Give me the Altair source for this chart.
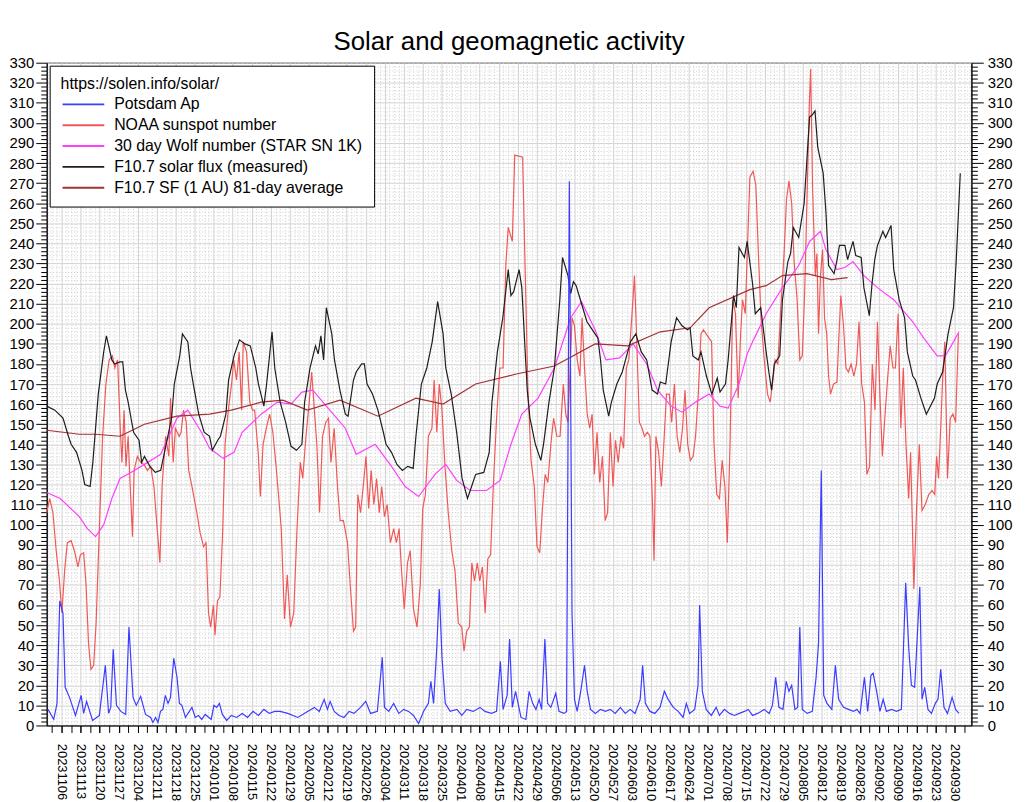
import altair as alt
import pandas as pd

# ---------------- data (day offsets from 2023-10-31 12:00 UTC, value) ----------------
BASE = pd.Timestamp("2023-10-31 12:00", tz="UTC")
DOMAIN_DAYS = 340.6

SERIES = ["Potsdam Ap", "NOAA sunspot number", "30 day Wolf number (STAR SN 1K)",
          "F10.7 solar flux (measured)", "F10.7 SF (1 AU) 81-day average"]
COLORS = ["#3c3cff", "#f05858", "#ff40ff", "#1e1e1e", "#a33232"]

AP = [(0.5, 8), (2.6, 3), (3.8, 11), (4.8, 62), (6.0, 56), (6.8, 19), (8.4, 14), (10.6, 5), (12.7, 15),
      (13.6, 6), (14.7, 12), (16.9, 2.5), (19.4, 5), (21.6, 30), (22.8, 6), (23.6, 9), (24.5, 38),
      (25.7, 10), (27.3, 7), (29.1, 5.5), (30.3, 49), (31.8, 14), (33.0, 10), (34.6, 14.5), (36.4, 5.5),
      (38.3, 4), (39.1, 1.5), (40.1, 4), (41.0, 1.5), (41.9, 7), (42.8, 8), (43.7, 15), (44.7, 11),
      (45.6, 14), (46.8, 33.5), (48.0, 24), (48.9, 11), (49.8, 10), (51.1, 4), (53.5, 9), (54.7, 4),
      (55.9, 5), (57.1, 3), (58.4, 5.5), (60.6, 3), (61.6, 10), (62.6, 9), (63.6, 11), (64.7, 5.5),
      (66.3, 2.5), (68, 5), (70, 4), (72, 6), (74, 4), (76, 7), (78, 5), (80, 8), (82, 6), (84, 7),
      (86, 7), (88.8, 6), (92.5, 4), (96.1, 7), (98.6, 9), (100.4, 7), (102.2, 13), (103.4, 8),
      (104.4, 12), (105.9, 7), (107.7, 5), (109.5, 4), (111.4, 7), (113.2, 6), (115.6, 9), (117.5, 12),
      (119.3, 6), (121.8, 7), (123.6, 34), (124.4, 9), (126.0, 7), (127.8, 11), (129.7, 6), (131.5, 8),
      (133.3, 7), (135.1, 5), (137.0, 1), (138.8, 7), (140.6, 11), (141.5, 22), (142.5, 11), (143.7, 39),
      (144.6, 68), (145.6, 34), (146.8, 11), (148.6, 7), (151.1, 8), (152.9, 5), (154.7, 8), (157.1, 7),
      (159.6, 9), (161.4, 7), (163.8, 6), (165.7, 7), (167.1, 32), (168.1, 8), (169.6, 15), (170.5, 43),
      (171.5, 9), (172.7, 17), (174.7, 4), (176.5, 3), (177.7, 17), (179.0, 11), (180.2, 8), (181.4, 13),
      (182.3, 8), (183.5, 43), (184.5, 11), (185.7, 9), (187.5, 16), (188.7, 7), (190.5, 6), (191.5, 7),
      (192.5, 271), (193.5, 56), (194.4, 13), (195.4, 7), (196.7, 17), (198.1, 30), (199.1, 17),
      (200.3, 8), (202.1, 6), (204.0, 8), (205.8, 7), (207.6, 8), (209.4, 6), (211.3, 9), (213.1, 6),
      (214.9, 8), (216.7, 6), (218.6, 13), (219.5, 30), (220.5, 11), (222.2, 7), (224.0, 6), (225.9, 9),
      (227.5, 17), (228.9, 13), (230.8, 9), (232.6, 7), (234.4, 4), (235.6, 11), (236.8, 6), (238.7, 8),
      (239.9, 20), (240.5, 60), (241.5, 17), (242.9, 8), (244.8, 5), (246.6, 9), (247.8, 5), (249.6, 8),
      (251.5, 6), (253.3, 5), (255.1, 6), (257.0, 7), (258.4, 8), (260.0, 5), (261.8, 6), (263.1, 7),
      (264.3, 8), (266.1, 6), (267.3, 10), (268.5, 24), (269.7, 9), (271.2, 8), (272.4, 22), (273.4, 17),
      (274.4, 20), (275.6, 8), (276.6, 9), (277.4, 49), (278.3, 8), (280.1, 6), (282.0, 7), (283.4, 24),
      (284.3, 41), (285.3, 127), (286.2, 15), (287.4, 11), (289.2, 8), (290.5, 30), (291.7, 13),
      (293.5, 9), (295.3, 8), (297.2, 7), (298.4, 8), (299.6, 6), (301.2, 24), (302.4, 7), (303.6, 25),
      (304.4, 26), (305.7, 17), (306.9, 7), (308.1, 13), (309.3, 7), (311.2, 8), (313.0, 7), (314.8, 8),
      (316.4, 71), (317.5, 39), (318.5, 20), (319.7, 19), (321.6, 69), (322.4, 13), (323.4, 19),
      (324.6, 8), (325.9, 6), (327.3, 11), (328.3, 13), (329.3, 28), (330.5, 9), (331.8, 6), (333.5, 14),
      (334.8, 8), (336.0, 6)]

NOAA = [(0.0, 106), (1.1, 113), (2.3, 106), (3.5, 87), (4.7, 72), (5.6, 56), (6.6, 77), (7.6, 91),
        (9.0, 92), (10.2, 87), (11.5, 79), (12.4, 85), (13.6, 86), (14.5, 70), (15.4, 41), (16.3, 28),
        (17.3, 30), (18.2, 51), (19.4, 98), (20.6, 144), (21.8, 170), (23.0, 182), (24.2, 184),
        (25.1, 178), (26.1, 182), (27.1, 148), (27.7, 131), (28.5, 157), (29.2, 129), (30.0, 144),
        (30.7, 121), (31.6, 94), (32.2, 127), (33.4, 134), (34.6, 131), (35.8, 130), (37.1, 127),
        (38.3, 129), (39.5, 119), (40.7, 98), (41.7, 81), (42.5, 119), (43.8, 144), (45.0, 134),
        (45.6, 163), (46.6, 131), (47.4, 148), (48.8, 144), (49.5, 146), (50.4, 157), (51.4, 151),
        (52.3, 127), (53.5, 119), (55.3, 106), (56.5, 96), (57.8, 89), (58.7, 91), (59.6, 56),
        (60.4, 49), (61.4, 60), (62.0, 45), (62.9, 62), (63.8, 64), (64.8, 96), (65.7, 140), (66.9, 157),
        (68.1, 170), (68.9, 182), (69.9, 172), (70.9, 186), (71.8, 157), (72.4, 191), (73.6, 186),
        (74.8, 161), (75.8, 157), (76.6, 157), (77.9, 136), (78.7, 114), (79.7, 140), (80.9, 148),
        (82.1, 155), (83.3, 146), (84.5, 129), (85.8, 108), (86.4, 98), (87.6, 53), (88.6, 75),
        (89.8, 49), (91.0, 56), (92.2, 98), (93.4, 131), (94.3, 123), (95.5, 144), (96.7, 161),
        (97.6, 176), (98.6, 157), (99.5, 140), (100.5, 106), (101.6, 144), (102.8, 151), (103.8, 153),
        (104.7, 131), (105.9, 148), (107.1, 119), (108.1, 102), (109.3, 102), (110.8, 91), (112.0, 66),
        (113.0, 47), (113.8, 49), (114.6, 115), (115.6, 106), (116.6, 119), (117.6, 134), (118.6, 108),
        (119.5, 127), (120.5, 110), (121.5, 123), (122.5, 106), (123.4, 119), (124.4, 104), (125.4, 110),
        (126.6, 91), (127.8, 98), (128.8, 91), (129.8, 98), (130.7, 77), (131.7, 58), (132.9, 81),
        (133.9, 87), (135.1, 58), (136.4, 49), (137.6, 70), (138.5, 108), (139.5, 115), (140.6, 144),
        (141.9, 148), (142.7, 172), (143.7, 146), (144.6, 170), (145.6, 157), (146.7, 129), (147.9, 106),
        (149.2, 87), (150.4, 77), (151.6, 51), (152.9, 49), (153.7, 37), (154.7, 47), (155.7, 49),
        (156.6, 81), (157.6, 72), (158.6, 81), (159.5, 72), (160.5, 79), (161.5, 56), (162.5, 83),
        (163.5, 85), (164.5, 119), (165.7, 153), (166.9, 178), (168.1, 178), (169.1, 229), (170.0, 248),
        (171.5, 241), (172.4, 284), (175.3, 283), (176.2, 229), (177.2, 170), (178.4, 132), (179.6, 119),
        (180.6, 89), (181.6, 86), (182.6, 108), (183.6, 125), (184.6, 121), (185.7, 140), (186.7, 153),
        (187.9, 144), (189.1, 144), (190.3, 170), (191.2, 155), (192.0, 151), (192.7, 174), (193.5, 203),
        (194.4, 199), (195.4, 182), (196.4, 174), (197.2, 203), (198.1, 178), (199.1, 155), (200.0, 148),
        (200.9, 155), (201.7, 125), (202.7, 146), (203.7, 121), (204.7, 134), (205.7, 102), (206.6, 106),
        (207.6, 146), (208.6, 119), (209.5, 142), (210.5, 131), (211.5, 144), (212.5, 138), (213.5, 178),
        (214.4, 182), (215.5, 203), (216.5, 224), (217.3, 193), (218.3, 151), (219.3, 148), (220.2, 144),
        (221.2, 146), (222.2, 144), (223.2, 108), (223.7, 82), (224.4, 144), (225.4, 136), (226.4, 119),
        (227.3, 140), (228.3, 165), (229.3, 165), (230.2, 151), (231.2, 170), (232.2, 144), (233.2, 136),
        (234.2, 148), (235.1, 167), (236.1, 140), (237.1, 132), (238.1, 134), (239.0, 144), (240.0, 165),
        (241.0, 195), (241.9, 197), (242.9, 195), (243.9, 193), (244.9, 191), (245.8, 140), (246.8, 115),
        (247.8, 113), (248.8, 132), (249.8, 119), (250.7, 91), (251.7, 140), (252.7, 212), (253.7, 205),
        (254.7, 163), (255.6, 195), (256.3, 212), (257.3, 205), (258.2, 241), (259.0, 273), (260.2, 276),
        (261.2, 269), (262.2, 233), (263.1, 203), (264.3, 182), (265.5, 165), (266.5, 161), (267.3, 170),
        (268.3, 182), (269.3, 180), (270.4, 208), (271.6, 235), (272.5, 262), (273.4, 271), (274.4, 260),
        (275.3, 231), (276.4, 212), (277.4, 182), (278.3, 184), (279.2, 216), (280.2, 271), (280.9, 309),
        (281.4, 327), (282.1, 267), (283.1, 224), (283.7, 235), (284.3, 195), (285.0, 224), (285.8, 237),
        (286.5, 203), (287.3, 195), (288.0, 174), (288.7, 165), (289.8, 170), (291.1, 171), (291.7, 191),
        (292.5, 214), (293.5, 199), (294.4, 178), (295.3, 176), (296.3, 180), (297.3, 174), (298.3, 180),
        (299.2, 201), (300.2, 170), (301.2, 161), (302.1, 125), (303.1, 129), (304.1, 180), (305.1, 157),
        (306.0, 201), (307.0, 161), (307.8, 134), (308.7, 153), (309.7, 172), (310.7, 189), (311.7, 178),
        (312.6, 178), (313.6, 205), (314.6, 148), (315.5, 178), (316.5, 140), (317.5, 113), (318.2, 136),
        (318.9, 98), (319.4, 68), (320.4, 108), (321.4, 140), (322.4, 107), (323.6, 110), (324.9, 115),
        (326.1, 117), (327.1, 115), (327.8, 134), (328.5, 123), (329.3, 148), (330.0, 172), (330.8, 191),
        (331.8, 123), (332.8, 153), (333.8, 155), (334.8, 151), (335.8, 195)]

WOLF30 = [(0, 116), (5, 113), (12, 104), (15, 98), (18, 94), (21, 100), (24, 113), (27, 123), (31, 126),
          (36, 130), (42, 135), (48, 153), (52, 157), (57, 146), (60, 138), (65, 133), (69, 136), (72, 146),
          (79, 155), (85, 161), (90, 160), (94, 166), (98, 167), (103, 159), (110, 148), (114, 135),
          (121, 140), (127, 129), (132, 119), (137, 114), (143, 125), (147, 130), (151, 122), (156, 117),
          (162, 117), (167, 122), (171, 140), (175, 155), (181, 163), (187, 178), (193, 203), (197, 211),
          (202, 197), (206, 182), (211, 183), (216, 190), (221, 180), (225, 167), (230, 159), (234, 156),
          (239, 161), (244, 165), (248, 159), (251, 158), (255, 170), (258, 185), (260, 191), (265, 205),
          (271, 218), (277, 229), (281, 241), (285, 246), (287, 237), (291, 227), (294, 228), (297, 231),
          (301, 224), (306, 218), (312, 212), (319, 201), (323, 193), (328, 184), (331, 184), (334, 191),
          (336, 196)]

F107 = [(0, 159), (3, 157), (6, 153), (8, 144), (9, 140), (11, 136), (13, 127), (14, 120), (16, 119),
        (17, 131), (19, 165), (21, 186), (22, 194), (24, 182), (25, 180), (27, 181), (28, 181), (29, 167),
        (30, 161), (32, 146), (34, 142), (35, 131), (36, 134), (38, 129), (40, 126), (42, 127), (44, 140),
        (46, 153), (47, 170), (49, 184), (50, 195), (52, 191), (53, 178), (54, 170), (56, 155), (58, 146),
        (60, 144), (61, 137), (63, 142), (64, 144), (66, 155), (67, 172), (69, 184), (71, 192), (73, 190),
        (75, 189), (77, 178), (78, 170), (80, 159), (81, 170), (83, 196), (84, 178), (86, 161), (88, 151),
        (90, 139), (92, 137), (94, 140), (95, 161), (97, 178), (99, 189), (100, 185), (101, 194), (102, 182),
        (103, 208), (105, 195), (106, 182), (108, 167), (110, 155), (111, 154), (113, 172), (114, 176),
        (116, 180), (117, 180), (118, 170), (120, 165), (122, 157), (124, 146), (125, 140), (127, 136),
        (129, 130), (131, 127), (133, 129), (135, 128), (136, 144), (138, 170), (140, 178), (142, 191),
        (144, 211), (146, 195), (147, 178), (149, 165), (151, 146), (153, 123), (155, 113), (157, 121),
        (158, 125), (161, 126), (163, 136), (164, 161), (166, 186), (168, 203), (170, 227), (171, 214),
        (172, 216), (174, 227), (175, 218), (177, 167), (178, 153), (180, 140), (182, 132), (183, 140),
        (185, 161), (187, 178), (189, 212), (190, 233), (192, 224), (193, 215), (194, 221), (195, 219),
        (197, 210), (199, 201), (201, 197), (203, 193), (204, 182), (205, 167), (207, 154), (208, 161),
        (210, 170), (212, 176), (214, 186), (215, 191), (217, 195), (219, 186), (221, 182), (223, 167),
        (225, 165), (226, 171), (228, 170), (230, 191), (232, 203), (234, 199), (236, 197), (237, 198),
        (238, 184), (240, 182), (241, 186), (243, 174), (245, 165), (247, 173), (248, 166), (250, 170),
        (251, 182), (253, 214), (254, 208), (255, 238), (257, 233), (258, 241), (260, 220), (261, 205),
        (263, 208), (265, 186), (266, 176), (267, 167), (268, 180), (270, 184), (271, 212), (273, 231),
        (274, 235), (275, 248), (277, 243), (279, 260), (281, 303), (282, 304), (283, 306), (284, 288),
        (286, 275), (287, 256), (288, 229), (290, 225), (291, 231), (292, 239), (294, 239), (295, 232),
        (297, 241), (298, 234), (300, 233), (301, 218), (303, 204), (304, 220), (305, 232), (306, 239),
        (308, 246), (309, 243), (311, 249), (312, 227), (314, 212), (316, 203), (317, 186), (319, 174),
        (320, 172), (322, 163), (324, 155), (327, 163), (328, 170), (330, 176), (332, 195), (334, 208),
        (335, 231), (336.5, 275)]

F107_81 = [(0, 147), (12, 145), (18, 145), (27, 144), (36, 150), (48, 154), (60, 155), (68, 157), (79, 161),
           (87, 162), (96, 157), (108, 162), (122, 154), (136, 163), (146, 160), (158, 170), (173, 175),
           (187, 179), (202, 190), (214, 189), (226, 196), (237, 198), (244, 208), (259, 217), (265, 219),
           (271, 224), (280, 225), (289, 222), (295, 223)]

Y_MAJOR = list(range(0, 331, 10))
Y_MINOR = [v for v in range(0, 331, 2) if v % 10]

# ---------------- table ----------------
rows = []
for name, pts in zip(SERIES, [AP, NOAA, WOLF30, F107, F107_81]):
    for d, v in pts:
        t = BASE + pd.Timedelta(days=d)
        rows.append({"t": int(t.value // 10**6), "v": v, "series": name})
df = pd.DataFrame(rows)

def ms(ts):
    return int(pd.Timestamp(ts).value // 10**6)

x_start = ms(BASE)
x_end = ms(BASE + pd.Timedelta(days=DOMAIN_DAYS))
weeks = pd.date_range("2023-11-06", "2024-09-30", freq="7D", tz="UTC")
week_ms = [ms(t) for t in weeks]
half_ms = [ms(t) for t in pd.date_range("2023-11-02 12:00", "2024-10-03 12:00", freq="84h", tz="UTC")]
grid_ms = [ms(t) for t in pd.date_range("2023-10-31 18:00", "2024-10-06 00:00", freq="42h", tz="UTC")
           if ms(t) not in week_ms]

FONT = "Liberation Sans"
xscale = alt.Scale(type="utc", domain=[x_start, x_end], nice=False)
yscale = alt.Scale(domain=[0, 330], nice=False, zero=False)

color = alt.Color(
    "series:N",
    scale=alt.Scale(domain=SERIES, range=COLORS),
    legend=alt.Legend(
        title="https://solen.info/solar/", orient="top-left", offset=3,
        fillColor="white", strokeColor="black", padding=11,
        titleFont=FONT, titleFontSize=16, titleFontWeight="normal", titleColor="black",
        titlePadding=4, titleLimit=400,
        labelFont=FONT, labelFontSize=16, labelColor="black", labelLimit=400, labelOffset=38,
        rowPadding=5, symbolType="M-1,0H6", symbolSize=144, symbolStrokeWidth=2,
    ),
)

ax_x_major = alt.Axis(orient="bottom", values=week_ms, labelExpr="utcFormat(datum.value, '%Y%m%d')",
                      labelAngle=90, labelAlign="left", labelBaseline="middle", labelPadding=11,
                      labelFont=FONT, labelFontSize=13, labelColor="black", labelOverlap=False,
                      labelFlush=False, tickSize=7, tickColor="black", domainColor="black",
                      grid=True, gridColor="#d2d2d2", title=None)
ax_x_minor = alt.Axis(orient="bottom", values=half_ms, labels=False, tickSize=7, tickColor="black",
                      domain=False, grid=False, title=None)
ax_x_dots = alt.Axis(orient="bottom", values=grid_ms, labels=False, ticks=False, domain=False,
                     grid=True, gridColor="#cfcfcf", gridDash=[1, 2], title=None)
ax_y_left = alt.Axis(orient="left", values=Y_MAJOR, labelFont=FONT, labelFontSize=15, labelColor="black",
                     labelPadding=2, tickSize=11, tickColor="black", domainColor="black",
                     grid=True, gridColor="#d2d2d2", title=None)
ax_y_right = alt.Axis(orient="right", values=Y_MAJOR, labelFont=FONT, labelFontSize=15, labelColor="black",
                      labelPadding=4, tickSize=12, tickColor="black", domainColor="black",
                      grid=False, title=None)
ax_y_left_minor = alt.Axis(orient="left", values=Y_MINOR, labels=False, tickSize=6, tickColor="black",
                           domain=False, grid=True, gridColor="#cfcfcf", gridDash=[1, 2], title=None)
ax_y_right_minor = alt.Axis(orient="right", values=Y_MINOR, labels=False, tickSize=6, tickColor="black",
                            domain=False, grid=False, title=None)

base = alt.Chart(df)

def line(name, xax, yax):
    return base.transform_filter(alt.datum.series == name).mark_line(strokeWidth=1.2).encode(
        x=alt.X("t:T", scale=xscale, axis=xax),
        y=alt.Y("v:Q", scale=yscale, axis=yax),
        color=color,
    )

chart = alt.layer(
    line(SERIES[1], ax_x_major, ax_y_left),
    line(SERIES[2], ax_x_minor, ax_y_right),
    line(SERIES[4], ax_x_dots, ax_y_left_minor),
    line(SERIES[3], None, ax_y_right_minor),
    line(SERIES[0], None, None),
).resolve_axis(x="independent", y="independent").properties(
    width=932, height=668,
    padding={"left": 39, "top": 52, "right": 51, "bottom": 74},
    autosize=alt.AutoSizeParams(type="none"),
    title=alt.TitleParams("Solar and geomagnetic activity", font=FONT, fontSize=26, fontWeight="normal",
                          color="black", anchor="middle", frame="group", baseline="bottom", offset=-25),
).configure_view(stroke="black", strokeWidth=1)

chart.save("out.html", embed_options={"renderer": "svg", "actions": False})
